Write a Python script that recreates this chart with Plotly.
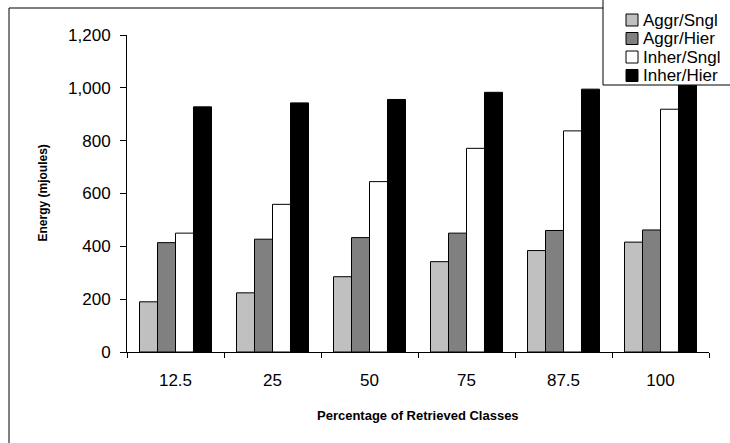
import plotly.graph_objects as go

# Energy use per retrieval strategy, by percentage of classes retrieved
categories = ["12.5", "25", "50", "75", "87.5", "100"]
series_names = ["Aggr/Sngl", "Aggr/Hier", "Inher/Sngl", "Inher/Hier"]
aggr_sngl = [190, 224, 285, 342, 384, 416]
aggr_hier = [414, 427, 433, 450, 460, 462]
inher_sngl = [450, 559, 645, 771, 837, 919]
inher_hier = [928, 943, 956, 983, 995, 1010]
y_ticks = [0, 200, 400, 600, 800, 1000, 1200]

series_values = [aggr_sngl, aggr_hier, inher_sngl, inher_hier]
fills = ["#c0c0c0", "#808080", "#ffffff", "#000000"]

W, H = 730, 443
L, R, T, B = 127, 21, 35, 91
PW, PH = W - L - R, H - T - B


def px_x(x):
    return (x - L) / PW


def px_y(y):
    return 1 - (y - T) / PH


FONT = "Liberation Sans, Arial, sans-serif"

fig = go.Figure()
for name, vals, col in zip(series_names, series_values, fills):
    fig.add_trace(go.Bar(
        x=categories, y=vals, name=name,
        marker=dict(color=col, line=dict(color="#000000", width=1)),
        showlegend=False,
    ))

shapes = []
annotations = []

# outer frame around the whole figure
shapes.append(dict(type="rect", xref="paper", yref="paper",
                   x0=px_x(9), x1=px_x(760), y0=px_y(470), y1=px_y(8),
                   line=dict(color="#000000", width=1), fillcolor="rgba(0,0,0,0)",
                   layer="above"))

# legend box in the top-right corner
shapes.append(dict(type="rect", xref="paper", yref="paper",
                   x0=px_x(603), x1=px_x(760), y0=px_y(85), y1=px_y(-10),
                   line=dict(color="#000000", width=1), fillcolor="#ffffff",
                   layer="above"))
row_centers = [20, 38.5, 57, 75.5]
for name, col, yc in zip(series_names, fills, row_centers):
    shapes.append(dict(type="rect", xref="paper", yref="paper",
                       x0=px_x(626), x1=px_x(638), y0=px_y(yc + 6), y1=px_y(yc - 6),
                       line=dict(color="#000000", width=1), fillcolor=col,
                       layer="above"))
    annotations.append(dict(text=name, xref="paper", yref="paper",
                            x=px_x(641), y=px_y(yc), xanchor="left", yanchor="middle",
                            showarrow=False, font=dict(family=FONT, size=17, color="#000000")))

# axis titles
annotations.append(dict(text="<b>Energy (mjoules)</b>", xref="paper", yref="paper",
                        x=px_x(42), y=0.5, xanchor="center", yanchor="middle",
                        textangle=-90, showarrow=False,
                        font=dict(family=FONT, size=12, color="#000000")))
annotations.append(dict(text="<b>Percentage of Retrieved Classes</b>", xref="paper", yref="paper",
                        x=0.5, y=px_y(415), xanchor="center", yanchor="middle",
                        showarrow=False,
                        font=dict(family=FONT, size=13, color="#000000")))

fig.update_layout(
    width=W, height=H,
    margin=dict(l=L, r=R, t=T, b=B, autoexpand=False),
    paper_bgcolor="#ffffff", plot_bgcolor="#ffffff",
    barmode="group", bargap=0.258, bargroupgap=0,
    shapes=shapes, annotations=annotations,
    font=dict(family=FONT, size=17, color="#000000"),
)
fig.update_xaxes(
    type="category", showline=True, linecolor="#000000", linewidth=1,
    ticks="outside", tickson="boundaries", ticklen=5, tickcolor="#000000",
    showgrid=False, zeroline=False, ticklabelstandoff=13,
    tickfont=dict(family=FONT, size=17, color="#000000"),
)
fig.update_yaxes(
    range=[0, 1200], tickvals=y_ticks, tickformat=",d",
    showline=True, linecolor="#000000", linewidth=1,
    ticks="outside", ticklen=6, tickcolor="#000000",
    showgrid=False, zeroline=False, ticklabelstandoff=6,
    tickfont=dict(family=FONT, size=17, color="#000000"),
)

fig.write_html("out.html")
